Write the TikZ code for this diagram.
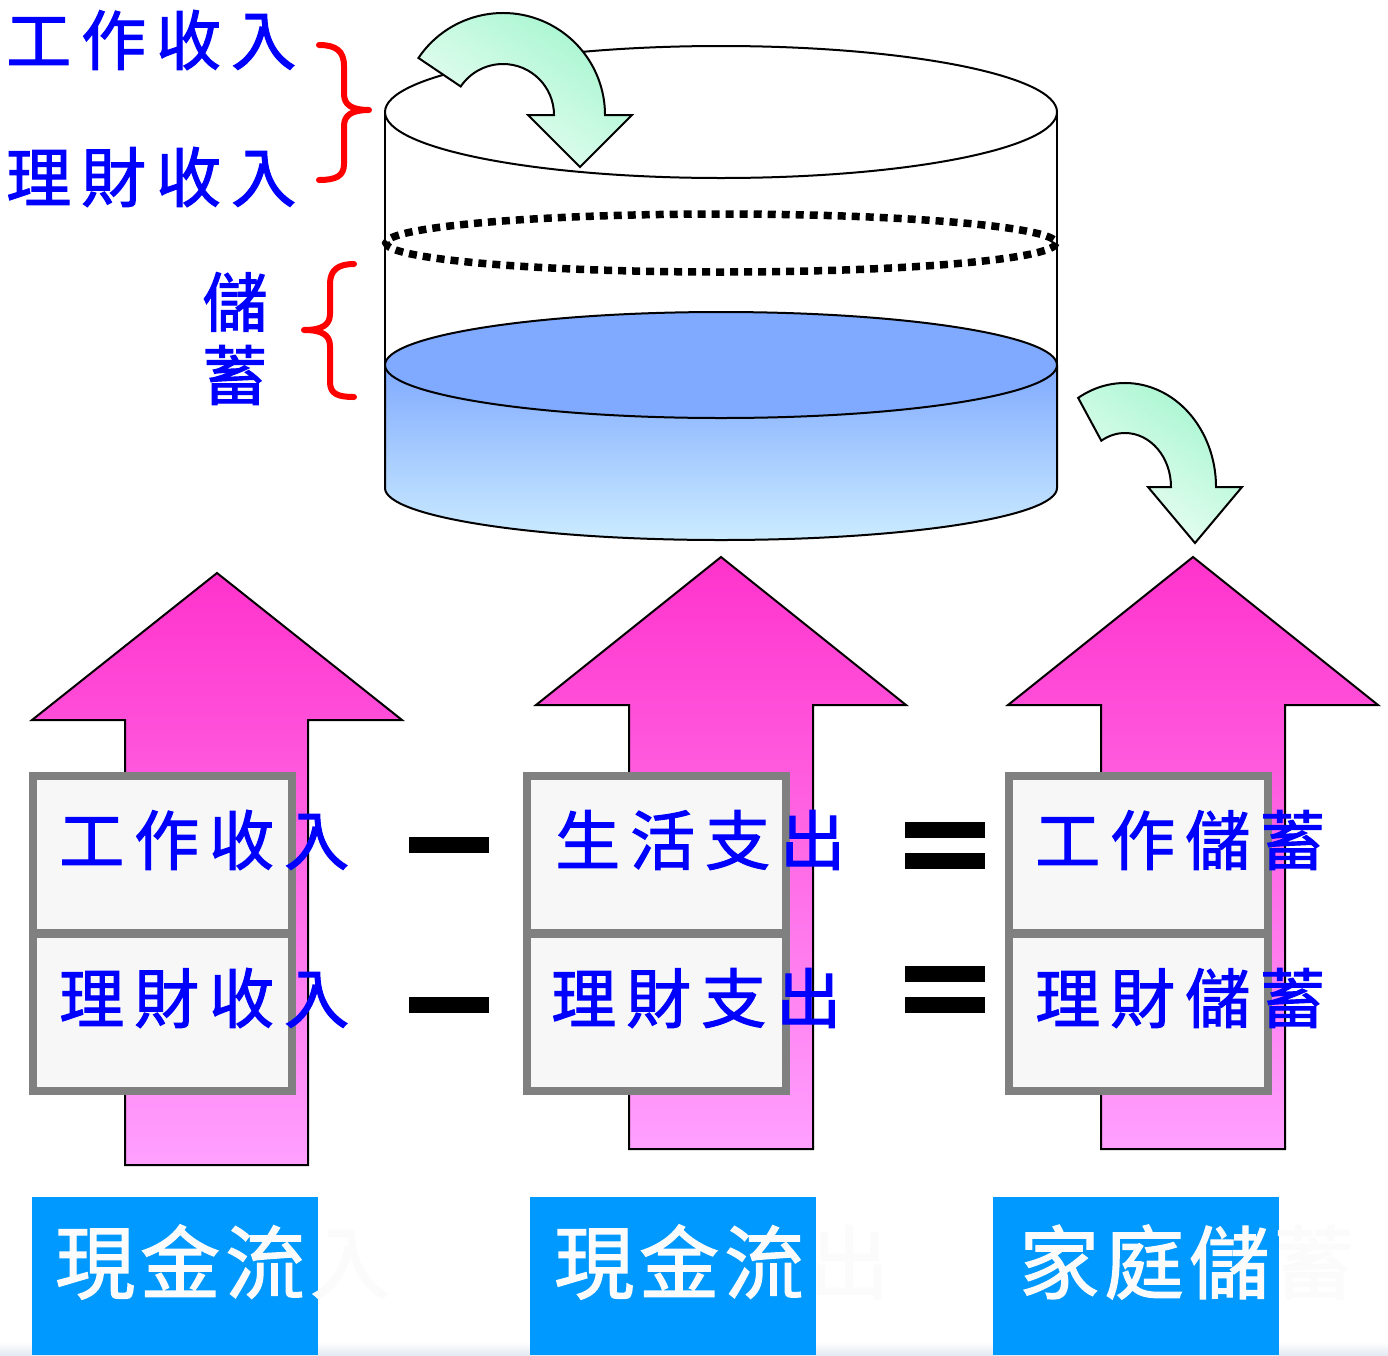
\documentclass[tikz,border=0pt]{standalone}
\usepackage{fontspec}
\usetikzlibrary{calc}
\newfontfamily\cjk{Noto Sans CJK TC}
\newfontfamily\cjkm[FakeBold=1.6]{Noto Sans CJK TC}
\definecolor{textblue}{RGB}{0,0,255}
\definecolor{boxgray}{RGB}{128,128,128}
\definecolor{boxfill}{RGB}{247,247,247}
\definecolor{pinktop}{RGB}{255,51,204}
\definecolor{pinkbot}{RGB}{255,160,255}
\definecolor{mintdark}{RGB}{160,245,205}
\definecolor{mintlight}{RGB}{242,255,247}
\definecolor{watertop}{RGB}{128,170,255}
\definecolor{waterbot}{RGB}{204,236,255}
\definecolor{labelblue}{RGB}{0,153,255}
\definecolor{ghost}{RGB}{251,251,251}
\newcommand{\cg}{\hspace{10pt}}
\newcommand{\cgb}{\hspace{5pt}}
\begin{document}
\begin{tikzpicture}[x=1pt,y=-1pt,
  bluetxt/.style={inner sep=0pt, anchor=west, text=textblue, font=\cjkm\fontsize{65}{65}\selectfont},
  whitetxt/.style={inner sep=0pt, anchor=west, text=ghost, font=\cjkm\fontsize{80}{80}\selectfont},
  graybox/.style={draw=boxgray, fill=boxfill, line width=8pt, inner sep=0pt, minimum width=259pt, minimum height=157pt},
  bluebox/.style={fill=labelblue, inner sep=0pt, minimum width=286pt, minimum height=158pt},
  bar/.style={fill=black, inner sep=0pt, minimum width=80pt, minimum height=16pt},
  bigarrow/.style={draw=black, line width=2pt, top color=pinktop, bottom color=pinkbot},
  curvearrow/.style={draw=black, line width=2pt, top color=mintdark, bottom color=mintlight, shading angle=-35},
  brace/.style={draw=red, line width=6pt, line cap=round, line join=round}
]
\useasboundingbox (0,0) rectangle (1388,1355);
\fill[white] (0,0) rectangle (1388,1355);
\shade[top color=white, bottom color={rgb,255:red,228;green,233;blue,243}] (0,1342) rectangle (1388,1355);

% ---------- cylinder ----------
\coordinate (ctop) at (721,112);
\coordinate (cdot) at (721,243);
\coordinate (cwat) at (721,365);
\coordinate (cbot) at (721,488);
\draw[line width=2pt] (385,112) -- (385,488);
\draw[line width=2pt] (1057,112) -- (1057,488);
\draw[line width=2pt, fill=white] (ctop) ellipse [x radius=336, y radius=66];
\draw[line width=7.5pt, dash pattern=on 8pt off 6pt] (cdot) ellipse [x radius=335, y radius=29];
\fill (385,243) circle (3pt);
\shade[top color=watertop, bottom color=waterbot] (385,365) -- (385,488) arc[start angle=180, end angle=0, x radius=336, y radius=52] -- (1057,365) -- cycle;
\draw[line width=2pt] (385,365) -- (385,488) arc[start angle=180, end angle=0, x radius=336, y radius=52] -- (1057,365);
\draw[line width=2pt, fill=watertop] (cwat) ellipse [x radius=336, y radius=53];

% ---------- curved arrows ----------
\coordinate (a1c) at (503,115);
\path[curvearrow] ($(a1c)+(214:102)$) arc[start angle=214, end angle=360, radius=102]
  -- (632,115) -- (580,167) -- (528,115) -- (554,115)
  arc[start angle=360, end angle=214, radius=51] -- cycle;
\coordinate (a2c) at (1125,487);
\path[curvearrow] ($(a2c)+(239:91 and 104)$) arc[start angle=239, end angle=360, x radius=91, y radius=104]
  -- (1242,487) -- (1195,543) -- (1148,487) -- (1171,487)
  arc[start angle=360, end angle=239, x radius=46, y radius=54] -- cycle;

% ---------- top-left labels and braces ----------
\node[bluetxt] (t1) at (6,40) {工\cg 作\cg 收\cg 入};
\node[bluetxt] (t2) at (6,177) {理\cg 財\cg 收\cg 入};
\draw[brace] (319,45) .. controls (336,45) and (344,51) .. (344,66) -- (344,94)
  .. controls (344,105) and (352,110) .. (369,110)
  .. controls (352,110) and (344,115) .. (344,126) -- (344,164)
  .. controls (344,176) and (336,180) .. (319,180);
\node[bluetxt, anchor=center] (s1) at (235,302) {儲};
\node[bluetxt, anchor=center] (s2) at (235,375) {蓄};
\draw[brace] (354,264) .. controls (338,264) and (330,270) .. (330,284) -- (330,314)
  .. controls (330,325) and (322,330) .. (304,330)
  .. controls (322,330) and (330,335) .. (330,346) -- (330,382)
  .. controls (330,394) and (338,397) .. (354,397);

% ---------- big pink arrows ----------
\path[bigarrow] (125,1165) -- (125,720) -- (32,720) -- (217,573) -- (402,720) -- (308,720) -- (308,1165) -- cycle;
\path[bigarrow] (629,1149) -- (629,705) -- (536,705) -- (721,557) -- (906,705) -- (813,705) -- (813,1149) -- cycle;
\path[bigarrow] (1101,1149) -- (1101,705) -- (1008,705) -- (1193,557) -- (1378,705) -- (1285,705) -- (1285,1149) -- cycle;

% ---------- gray boxes ----------
\node[graybox] (b1a) at (162.5,854.5) {};
\node[graybox] (b1b) at (162.5,1012) {};
\node[graybox] (b2a) at (656.5,854.5) {};
\node[graybox] (b2b) at (656.5,1012) {};
\node[graybox] (b3a) at (1138.5,854.5) {};
\node[graybox] (b3b) at (1138.5,1012) {};

\node[bluetxt] (x1a) at (59,840) {工\cg 作\cg 收\cg 入};
\node[bluetxt] (x1b) at (59,998) {理\cg 財\cg 收\cg 入};
\node[bluetxt] (x2a) at (555,840) {生\cg 活\cg 支\cg 出};
\node[bluetxt] (x2b) at (551,998) {理\cg 財\cg 支\cg 出};
\node[bluetxt] (x3a) at (1035,840) {工\cg 作\cg 儲\cg 蓄};
\node[bluetxt] (x3b) at (1035,998) {理\cg 財\cg 儲\cg 蓄};

% ---------- operators ----------
\node[bar] (m1) at (449,845) {};
\node[bar] (m2) at (449,1005) {};
\node[bar] (e1a) at (945,829.5) {};
\node[bar] (e1b) at (945,861) {};
\node[bar] (e2a) at (945,973.5) {};
\node[bar] (e2b) at (945,1005) {};

% ---------- bottom labels ----------
\node[bluebox] (l1) at (175,1276) {};
\node[bluebox] (l2) at (673,1276) {};
\node[bluebox] (l3) at (1136,1276) {};
\node[whitetxt] (w1) at (55,1262) {現\cgb 金\cgb 流\cgb 入};
\node[whitetxt] (w2) at (554,1262) {現\cgb 金\cgb 流\cgb 出};
\node[whitetxt] (w3) at (1019,1262) {家\cgb 庭\cgb 儲\cgb 蓄};
\end{tikzpicture}
\end{document}
